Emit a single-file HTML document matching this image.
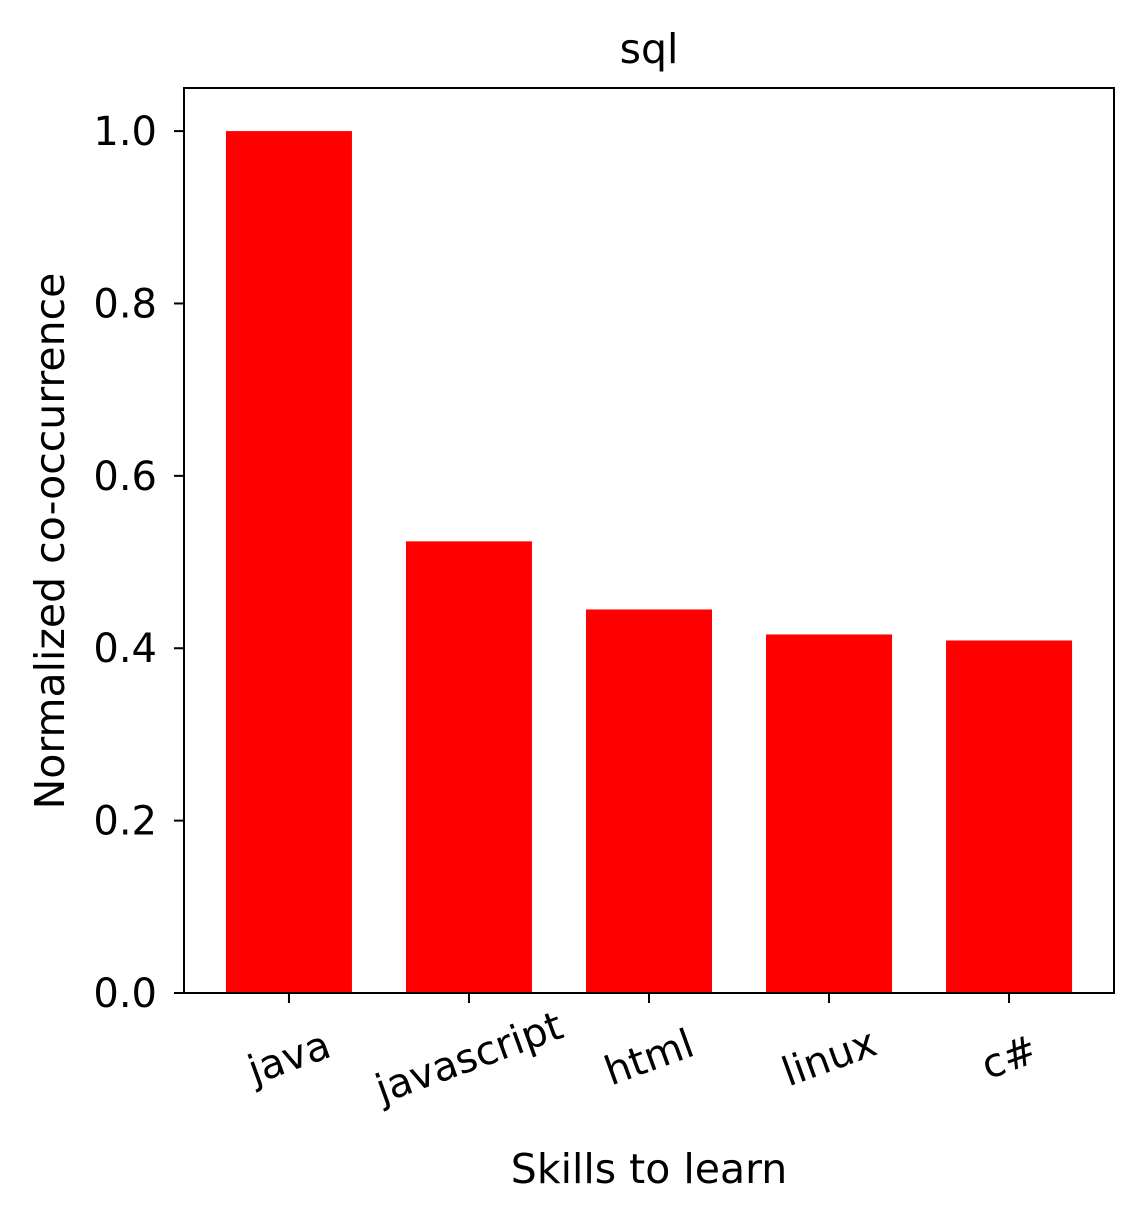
<!DOCTYPE html>
<html><head><meta charset="utf-8"><style>
body{margin:0;background:#fff;}
svg text{font-family:"DejaVu Sans","Liberation Sans",sans-serif;fill:#000;}
</style></head><body>
<svg id="chart" width="1144" height="1220" xmlns="http://www.w3.org/2000/svg">
<rect width="1144" height="1220" fill="#fff"/>
<g id="bars"></g><g id="axes"></g>
<text x="649" y="63" font-size="41" text-anchor="middle">sql</text>
<text x="649" y="1183" font-size="41" text-anchor="middle">Skills to learn</text>
<text transform="translate(64,541) rotate(-90)" font-size="41" text-anchor="middle">Normalized co-occurrence</text>
</svg>
<script>
const categories=["java","javascript","html","linux","c#"];
const values=[1.0,0.524,0.445,0.416,0.409];
const yTicks=[0,0.2,0.4,0.6,0.8,1.0];
const yTickLabels=["0.0","0.2","0.4","0.6","0.8","1.0"];
const L=184,R=1114,T=88,B=993;
const ns="http://www.w3.org/2000/svg";
function y(v){return B-(v/1.05)*(B-T);}
function x(i){const n=categories.length;const lo=-0.583,hi=n-1+0.583;return L+(i-lo)/(hi-lo)*(R-L);}
const bw=(x(1)-x(0))*0.7;
const bars=document.getElementById('bars'),axes=document.getElementById('axes');
function mk(t,a,p){const e=document.createElementNS(ns,t);for(const k in a)e.setAttribute(k,a[k]);p.appendChild(e);return e;}
categories.forEach((c,i)=>{
 const r=mk('rect',{x:x(i)-bw/2,y:y(values[i]),width:bw,height:B-y(values[i]),fill:'#ff0000'},bars);
 
 
 const tk=mk('line',{x1:x(i),x2:x(i),y1:B,y2:B+10,stroke:'#000','stroke-width':2},axes);
 
 
 const t=mk('text',{'font-size':40,'text-anchor':'middle',dy:'0.35em',transform:`translate(${x(i)},${B+64}) rotate(-20)`},axes);
 t.textContent=c;
 
 
});
yTicks.forEach((v,i)=>{
 const tk=mk('line',{x1:L-10,x2:L,y1:y(v),y2:y(v),stroke:'#000','stroke-width':2},axes);
 
 
 const t=mk('text',{x:L-27,y:y(v)+14,'font-size':40,'text-anchor':'end'},axes);
 t.textContent=yTickLabels[i];
 
 
});
const f=mk('rect',{x:L,y:T,width:R-L,height:B-T,fill:'none',stroke:'#000','stroke-width':2},axes);


</script>
</body></html>
